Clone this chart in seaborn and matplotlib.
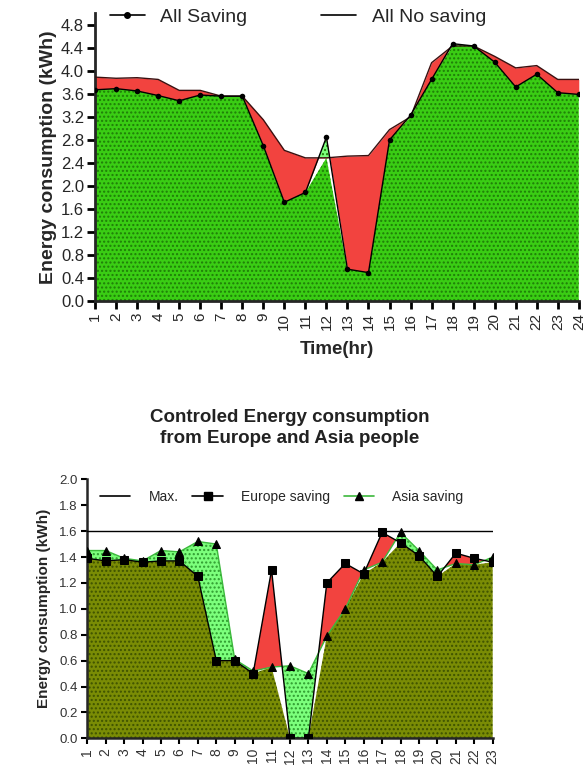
import numpy as np
import pandas as pd
import matplotlib
matplotlib.use("Agg")
import matplotlib.pyplot as plt
import seaborn as sns
from matplotlib.lines import Line2D

# ---------------- data ----------------
hours_top = list(range(1, 25))
all_saving = [3.67, 3.69, 3.65, 3.57, 3.48, 3.58, 3.56, 3.56, 2.70, 1.72, 1.89, 2.85,
              0.56, 0.50, 2.80, 3.23, 3.85, 4.47, 4.43, 4.15, 3.72, 3.94, 3.62, 3.59]
all_no_saving = [3.89, 3.87, 3.88, 3.85, 3.66, 3.66, 3.56, 3.56, 3.15, 2.62, 2.49, 2.49,
                 2.52, 2.53, 2.98, 3.20, 4.14, 4.43, 4.43, 4.25, 4.05, 4.09, 3.85, 3.85]
top_yticks = [0.0, 0.4, 0.8, 1.2, 1.6, 2.0, 2.4, 2.8, 3.2, 3.6, 4.0, 4.4, 4.8]

hours_bot = list(range(1, 24))
europe_saving = [1.39, 1.37, 1.38, 1.36, 1.37, 1.37, 1.25, 0.60, 0.60, 0.50, 1.30, 0.00,
                 0.00, 1.20, 1.35, 1.27, 1.59, 1.51, 1.41, 1.25, 1.43, 1.39, 1.36]
asia_saving = [1.45, 1.45, 1.39, 1.37, 1.45, 1.44, 1.52, 1.50, 0.61, 0.52, 0.55, 0.56,
               0.50, 0.79, 1.00, 1.30, 1.36, 1.59, 1.45, 1.30, 1.35, 1.34, 1.40]
max_level = 1.6
bot_yticks = [0.0, 0.2, 0.4, 0.6, 0.8, 1.0, 1.2, 1.4, 1.6, 1.8, 2.0]

# ---------------- style ----------------
sns.set_style("ticks")
plt.rcParams['font.family'] = ['Liberation Sans', 'DejaVu Sans']
plt.rcParams['hatch.linewidth'] = 1.0

fig = plt.figure(figsize=(5.87, 7.71), dpi=100)

GREEN = '#3acd14'
GREEN_DOT = '#1f7d08'
LIGHT_GREEN = '#7cff7c'
RED = '#f2433f'
OLIVE = '#7a8c05'
OLIVE_DOT = '#3e5200'

# ================= top chart =================
ax1 = fig.add_axes([0.162, 0.609, 0.824, 0.374])
x = np.array(hours_top, dtype=float)
s = np.array(all_saving)
n = np.array(all_no_saving)

ax1.fill_between(x, 0, np.minimum(s, n), color=GREEN, edgecolor=GREEN_DOT,
                 hatch='....', linewidth=0, zorder=1)
ax1.fill_between(x, s, n, interpolate=True, color=RED, linewidth=0, zorder=0.5)
ax1.fill_between(x, n, s, where=s >= n, interpolate=True, color=LIGHT_GREEN,
                 edgecolor=GREEN_DOT, hatch='....', linewidth=0, zorder=1.2)

df_top = pd.DataFrame({'hour': hours_top, 'saving': all_saving, 'nosaving': all_no_saving})
sns.lineplot(data=df_top, x='hour', y='nosaving', ax=ax1, color='#3a1010',
             linewidth=1.0, zorder=3)
sns.lineplot(data=df_top, x='hour', y='saving', ax=ax1, color='black',
             linewidth=1.0, marker='o', markersize=4, markeredgewidth=0, zorder=4)

ax1.set_xlim(1, 24)
ax1.set_ylim(0, 5.0)
ax1.set_xticks(hours_top)
ax1.set_xticklabels([str(h) for h in hours_top], rotation=90, fontsize=11)
ax1.set_yticks(top_yticks)
ax1.set_yticklabels([f"{v:.1f}" for v in top_yticks], fontsize=12)
ax1.tick_params(direction='out', length=6, width=2, color='black', pad=2)
for sp in ['top', 'right']:
    ax1.spines[sp].set_visible(False)
for sp in ['left', 'bottom']:
    ax1.spines[sp].set_linewidth(2)
ax1.set_xlabel('Time(hr)', fontsize=13.5, fontweight='bold', labelpad=8)
ax1.set_ylabel('Energy consumption (kWh)', fontsize=14, fontweight='bold', labelpad=3)

h1 = [Line2D([], [], color='black', lw=1.2, marker='o', markersize=4),
      Line2D([], [], color='black', lw=1.2)]
ax1.legend(h1, ['All Saving', 'All No saving'], ncol=2, frameon=False,
           loc='center left', bbox_to_anchor=(0.03, 0.986), borderaxespad=0,
           borderpad=0, handlelength=1.8, handletextpad=0.8, columnspacing=3.8,
           fontsize=14)

# ================= bottom chart =================
ax2 = fig.add_axes([0.1487, 0.0424, 0.6906, 0.3359])
xb = np.array(hours_bot, dtype=float)
e = np.array(europe_saving)
a = np.array(asia_saving)

ax2.fill_between(xb, e, a, where=a >= e, interpolate=True, color=LIGHT_GREEN,
                 edgecolor='#2f9a2f', hatch='....', linewidth=0, zorder=1)
ax2.fill_between(xb, a, e, where=e >= a, interpolate=True, color=RED,
                 linewidth=0, zorder=1)
ax2.fill_between(xb, 0, np.minimum(e, a), color=OLIVE, edgecolor=OLIVE_DOT,
                 hatch='....', linewidth=0, zorder=2)

df_bot = pd.DataFrame({'hour': hours_bot, 'europe': europe_saving, 'asia': asia_saving,
                       'max': [max_level] * len(hours_bot)})
sns.lineplot(data=df_bot, x='hour', y='max', ax=ax2, color='black', linewidth=1.0, zorder=3)
sns.lineplot(data=df_bot, x='hour', y='asia', ax=ax2, color='#3cb83c', linewidth=1.0,
             marker='^', markersize=5.5, markerfacecolor='black', markeredgecolor='black',
             zorder=4)
sns.lineplot(data=df_bot, x='hour', y='europe', ax=ax2, color='black', linewidth=1.0,
             marker='s', markersize=5.5, markerfacecolor='black', markeredgecolor='black',
             zorder=5)

ax2.set_xlim(1, 23)
ax2.set_ylim(0, 2.0)
ax2.set_xticks(hours_bot)
ax2.set_xticklabels([str(h) for h in hours_bot], rotation=90, fontsize=10, color='#333333')
ax2.set_yticks(bot_yticks)
ax2.set_yticklabels([f"{v:.1f}" for v in bot_yticks], fontsize=9.5, color='#333333')
ax2.tick_params(direction='out', length=4, width=1.5, color='black', pad=3)
for sp in ['top', 'right']:
    ax2.spines[sp].set_visible(False)
for sp in ['left', 'bottom']:
    ax2.spines[sp].set_linewidth(1.8)
ax2.set_xlabel('')
ax2.set_ylabel('Energy consumption (kWh)', fontsize=11, fontweight='bold', labelpad=6)
ax2.set_title('Controled Energy consumption\nfrom Europe and Asia people',
              fontsize=13.5, fontweight='bold', pad=26, color='#222222', linespacing=1.3)

h2 = [Line2D([], [], color='black', lw=1.2),
      Line2D([], [], color='black', lw=1.2, marker='s', markersize=6),
      Line2D([], [], color='#3cb83c', lw=1.2, marker='^', markersize=6,
             markerfacecolor='black', markeredgecolor='black')]
ax2.legend(h2, ['Max.', 'Europe saving', 'Asia saving'], ncol=3, frameon=False,
           loc='center left', bbox_to_anchor=(0.031, 0.932), borderaxespad=0,
           borderpad=0, handlelength=2.2, handletextpad=1.3, columnspacing=1.0,
           fontsize=10)

fig.savefig('out.png', dpi=100)
